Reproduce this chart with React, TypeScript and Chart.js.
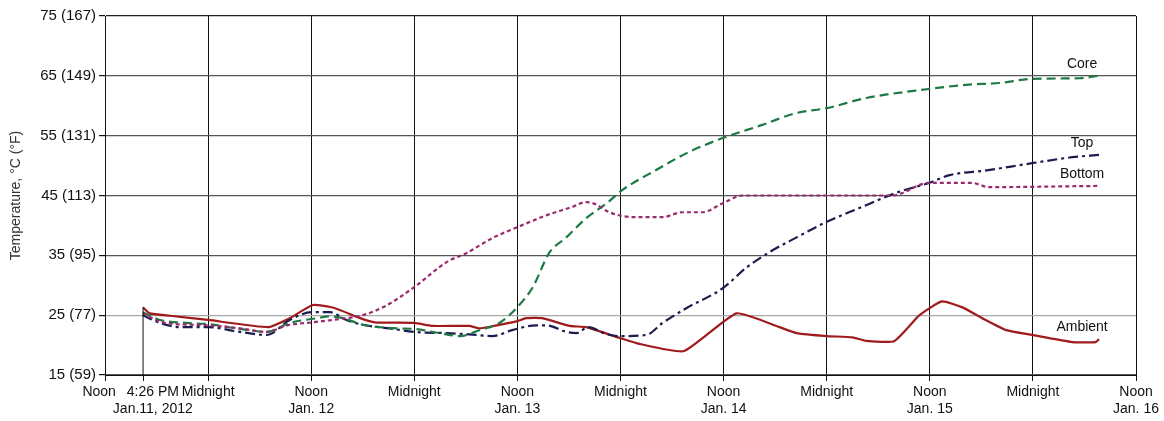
import React, { useEffect, useRef } from "react";
import { Chart, registerables } from "chart.js";

Chart.register(...registerables);

// hours since Noon, Jan. 11, 2012
const X_TICKS = [0, 4.433, 12, 24, 36, 48, 60, 72, 84, 96, 108, 120];
const X_TICK_LABELS: (string | string[])[] = [
  ["Noon   ", ""],
  ["     4:26 PM", "     Jan.11, 2012"],
  "Midnight",
  ["Noon", "Jan. 12"],
  "Midnight",
  ["Noon", "Jan. 13"],
  "Midnight",
  ["Noon", "Jan. 14"],
  "Midnight",
  ["Noon", "Jan. 15"],
  "Midnight",
  ["Noon", "Jan. 16"],
];

const AMBIENT_HOURS = [4.43, 5.2, 7.6, 12, 19, 21.5, 24.2, 26.7, 29.7, 31.4, 36, 38.1, 42.4, 43.6, 45.3, 48, 49, 50.9, 54.1, 56, 59.9, 62.2, 67.4, 73.5, 78.5, 80.5, 84, 87, 88.6, 91.9, 94.8, 97.4, 99.8, 102.1, 104.9, 107.9, 112.6, 115.3, 115.7];
const AMBIENT_TEMPS = [26.3, 25.3, 24.9, 24.2, 23.0, 24.5, 26.7, 26.2, 24.5, 23.8, 23.7, 23.2, 23.2, 22.8, 23.2, 24.0, 24.5, 24.5, 23.2, 23.0, 21.2, 20.2, 19.0, 25.3, 23.0, 22.0, 21.5, 21.3, 20.7, 20.7, 25.0, 27.3, 26.3, 24.5, 22.5, 21.7, 20.5, 20.5, 21.0];

const TOP_HOURS = [4.4, 6.4, 8.7, 12, 15.7, 18.8, 21.5, 24.1, 26.2, 28.1, 30, 33.1, 36, 39.8, 42.4, 45.1, 47.4, 50.2, 51.4, 53.7, 54.9, 56.2, 58.4, 59.9, 63, 64.9, 67.7, 71.9, 74.7, 77.3, 80.5, 84, 87.8, 92.4, 95.9, 98.3, 102.6, 107.9, 112.6, 115.7];
const TOP_TEMPS = [25.0, 23.7, 23.0, 23.0, 22.2, 21.7, 24.2, 25.5, 25.5, 24.2, 23.4, 22.8, 22.2, 22.0, 21.8, 21.5, 22.5, 23.3, 23.3, 22.2, 22.0, 23.0, 21.8, 21.5, 21.7, 23.7, 26.2, 29.5, 33.0, 35.5, 38.0, 40.6, 42.9, 45.6, 47.1, 48.4, 49.2, 50.4, 51.4, 51.8];

const CORE_HOURS = [4.4, 6.4, 9.5, 12, 15.7, 18.8, 21.5, 24.7, 26.2, 27.7, 30, 34, 36, 39, 41.3, 43.6, 45.9, 47.9, 49.8, 51.7, 53.7, 56, 58.4, 60.2, 64.2, 68, 71.9, 76.5, 80.5, 84, 88.6, 95.9, 100.2, 104.1, 107.9, 113.4, 115.7];
const CORE_TEMPS = [25.5, 24.2, 23.7, 23.5, 22.7, 22.2, 23.7, 24.5, 24.8, 24.5, 23.4, 22.8, 22.7, 22.0, 21.5, 22.5, 23.7, 26.2, 29.7, 35.4, 38.0, 41.2, 43.7, 45.9, 49.3, 52.3, 54.6, 56.8, 58.8, 59.6, 61.3, 62.8, 63.5, 63.8, 64.5, 64.6, 65.0];

const BOTTOM_HOURS = [4.4, 6.7, 12, 15.7, 18.8, 21.2, 24.1, 27, 30, 32.6, 36, 39.8, 42.1, 45.1, 48, 51.4, 54.4, 56, 57, 58.7, 61.4, 64.9, 67.2, 69.5, 71.9, 74.2, 84.3, 91.6, 95.9, 100.9, 102.9, 115.7];
const BOTTOM_TEMPS = [25.3, 23.8, 23.3, 22.8, 22.2, 23.3, 23.8, 24.3, 25.0, 26.5, 29.7, 33.9, 35.4, 37.9, 39.7, 41.7, 43.1, 43.9, 43.6, 42.2, 41.4, 41.4, 42.2, 42.2, 43.7, 45.0, 45.0, 45.0, 47.1, 47.1, 46.4, 46.6];

const pts = (xs: number[], ys: number[]) => xs.map((x, i) => ({ x, y: ys[i] }));

const FONT = '"Liberation Sans", Arial, sans-serif';

const seriesLabels = {
  id: "seriesLabels",
  afterDatasetsDraw(chart: any) {
    const ctx = chart.ctx;
    chart.data.datasets.forEach((ds: any, i: number) => {
      if (!ds.endLabel) return;
      const meta = chart.getDatasetMeta(i);
      const pt = meta.data[meta.data.length - 1];
      if (!pt) return;
      ctx.save();
      ctx.font = `14px ${FONT}`;
      ctx.fillStyle = "#111";
      ctx.textAlign = "center";
      ctx.textBaseline = "middle";
      ctx.fillText(ds.endLabel, pt.x - 17, pt.y - 12);
      ctx.restore();
    });
  },
};

export default function App() {
  const ref = useRef<HTMLCanvasElement>(null);
  useEffect(() => {
    if (!ref.current) return;
    const chart = new Chart(ref.current, {
      type: "line",
      data: {
        datasets: [
          {
            label: "start",
            data: [
              { x: AMBIENT_HOURS[0], y: 15 },
              { x: AMBIENT_HOURS[0], y: AMBIENT_TEMPS[0] },
            ],
            borderColor: "#111",
            borderWidth: 1,
            pointRadius: 0,
          },
          {
            label: "Bottom",
            endLabel: "Bottom",
            data: pts(BOTTOM_HOURS, BOTTOM_TEMPS),
            borderColor: "#9a2a6c",
            borderWidth: 2.2,
            borderDash: [4, 3],
            pointRadius: 0,
            cubicInterpolationMode: "monotone",
          },
          {
            label: "Core",
            endLabel: "Core",
            data: pts(CORE_HOURS, CORE_TEMPS),
            borderColor: "#1d7a45",
            borderWidth: 2.2,
            borderDash: [9, 5],
            pointRadius: 0,
            cubicInterpolationMode: "monotone",
          },
          {
            label: "Top",
            endLabel: "Top",
            data: pts(TOP_HOURS, TOP_TEMPS),
            borderColor: "#1c1d4e",
            borderWidth: 2.2,
            borderDash: [10, 4, 3, 4],
            pointRadius: 0,
            cubicInterpolationMode: "monotone",
          },
          {
            label: "Ambient",
            endLabel: "Ambient",
            data: pts(AMBIENT_HOURS, AMBIENT_TEMPS),
            borderColor: "#a01b1b",
            borderWidth: 2.2,
            pointRadius: 0,
            tension: 0.15,
          },
        ] as any,
      },
      options: {
        animation: false,
        responsive: true,
        maintainAspectRatio: false,
        layout: { padding: { top: 16, right: 28, left: 0, bottom: 0 } },
        plugins: { legend: { display: false }, tooltip: { enabled: false } },
        scales: {
          x: {
            type: "linear",
            min: 0,
            max: 120,
            afterBuildTicks: (scale: any) => {
              scale.ticks = X_TICKS.map((v) => ({ value: v }));
            },
            afterFit: (scale: any) => {
              scale.height = 46;
            },
            ticks: {
              autoSkip: false,
              maxRotation: 0,
              padding: 3,
              color: "#111",
              font: { family: FONT, size: 14 },
              callback: (_v: any, i: number) => X_TICK_LABELS[i],
            },
            grid: {
              color: (c: any) => (c.index === 1 ? "rgba(0,0,0,0)" : "#111"),
              tickColor: "#111",
              tickLength: 6,
              lineWidth: 1,
            },
            border: { color: "#111", width: 1 },
          },
          y: {
            min: 15,
            max: 75,
            afterFit: (scale: any) => {
              scale.width = 105;
            },
            ticks: {
              stepSize: 10,
              padding: 3,
              color: "#111",
              font: { family: FONT, size: 15 },
              callback: (v: any) => `${v} (${Math.round((v * 9) / 5 + 32)})`,
            },
            title: {
              display: true,
              text: "Temperature, °C (°F)",
              color: "#333",
              font: { family: FONT, size: 14 },
              padding: { top: 8, bottom: 0 },
            },
            grid: {
              color: (c: any) =>
                c.tick && c.tick.value === 25
                  ? "#a8a8a8"
                  : c.tick && c.tick.value === 75
                  ? "#222"
                  : "#555",
              tickColor: "#111",
              tickLength: 6,
              lineWidth: 1.2,
            },
            border: { color: "#111", width: 1 },
          },
        },
      } as any,
      plugins: [seriesLabels],
    });
    return () => chart.destroy();
  }, []);

  return (
    <div style={{ position: "fixed", left: 0, top: 0, width: 1164, height: 421, background: "#fff" }}>
      <canvas ref={ref} />
    </div>
  );
}
